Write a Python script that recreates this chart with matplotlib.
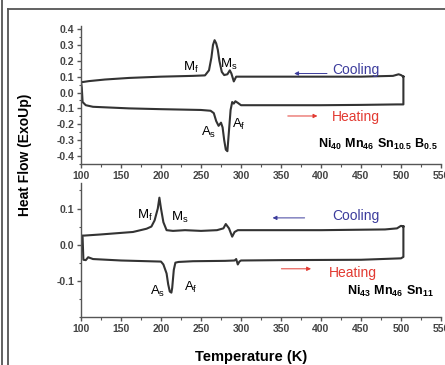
import numpy as np
import matplotlib
matplotlib.use('Agg')
import matplotlib.pyplot as plt
from matplotlib.lines import Line2D

plt.rcParams['font.family'] = ['Liberation Sans', 'DejaVu Sans']
plt.rcParams['mathtext.fontset'] = 'custom'
plt.rcParams['mathtext.rm'] = 'Liberation Sans'
plt.rcParams['mathtext.bf'] = 'Liberation Sans:bold'

# ~~~~~~~~~~~~~~~~~~~~~~~~~~~~~~~~~~~~~~~ Data ~~~~~~~~~~~~~~~~~~~~~~~~~~~~~~~~~~~~~~~
# Top panel: Ni40 Mn46 Sn10.5 B0.5 (cooling listed from 503 K down to 100 K)
top_cool_T = [503, 500, 497, 490, 450, 400, 350, 300, 294, 291, 288, 286, 283, 279, 276, 273, 271, 269,
              267, 265, 263, 260, 255, 240, 200, 160, 130, 110, 102, 100]
top_cool_hf = [0.10, 0.11, 0.115, 0.105, 0.10, 0.10, 0.10, 0.10, 0.10, 0.07, 0.12, 0.14, 0.115, 0.11, 0.13,
               0.20, 0.27, 0.31, 0.33, 0.30, 0.22, 0.14, 0.108, 0.105, 0.10, 0.092, 0.082, 0.072, 0.066, 0.068]
top_heat_T = [101, 102, 106, 115, 160, 200, 250, 262, 266, 269, 272, 275, 277, 279, 281, 283, 285, 287,
              289, 291, 293, 296, 300, 350, 400, 450, 495, 503]
top_heat_hf = [0.03, -0.06, -0.08, -0.09, -0.10, -0.105, -0.11, -0.115, -0.13, -0.18, -0.21, -0.19, -0.22,
               -0.30, -0.36, -0.37, -0.24, -0.11, -0.06, -0.07, -0.055, -0.065, -0.08, -0.08, -0.08, -0.078,
               -0.075, -0.075]

# Bottom panel: Ni43 Mn46 Sn11
bot_cool_T = [503, 500, 495, 480, 400, 300, 296, 292, 289, 285, 281, 278, 270, 250, 230, 215, 207, 203,
              200, 198, 196, 192, 188, 182, 165, 124, 104, 101]
bot_cool_hf = [0.05, 0.052, 0.045, 0.042, 0.04, 0.04, 0.04, 0.035, 0.022, 0.045, 0.057, 0.045, 0.04,
               0.038, 0.04, 0.038, 0.04, 0.062, 0.10, 0.13, 0.10, 0.067, 0.05, 0.044, 0.035, 0.028, 0.025,
               0.025]
bot_heat_T = [102, 103, 106, 109, 115, 150, 200, 203, 207, 209, 211, 213, 214, 216, 218, 222, 240, 280,
              292, 294, 296, 298, 300, 350, 450, 500, 503]
bot_heat_hf = [0.02, -0.042, -0.043, -0.035, -0.04, -0.044, -0.047, -0.055, -0.08, -0.11, -0.13, -0.133,
               -0.12, -0.07, -0.05, -0.048, -0.046, -0.045, -0.044, -0.04, -0.055, -0.047, -0.044, -0.043,
               -0.042, -0.038, -0.034]

x_ticks = [100, 150, 200, 250, 300, 350, 400, 450, 500, 550]
top_y_ticks = [-0.4, -0.3, -0.2, -0.1, 0.0, 0.1, 0.2, 0.3, 0.4]
bot_y_ticks = [-0.1, 0.0, 0.1]

line_col = '#333333'
cool_col = '#3c3c9c'
heat_col = '#e23a32'

fig = plt.figure(figsize=(4.45, 3.65), dpi=100)
ax1 = fig.add_axes([0.182, 0.551, 0.809, 0.378])
ax2 = fig.add_axes([0.182, 0.132, 0.809, 0.366])


def loop(cool_T, cool_hf, heat_T, heat_hf):
    # cooling (high -> low), heating (low -> high), closed back to the start
    T = list(cool_T) + list(heat_T) + [cool_T[0]]
    hf = list(cool_hf) + list(heat_hf) + [cool_hf[0]]
    return T, hf


def style(ax, yticks, ylim, minor_step):
    ax.set_xlim(100, 550)
    ax.set_ylim(*ylim)
    for s in ['top', 'right']:
        ax.spines[s].set_visible(False)
    for s in ['left', 'bottom']:
        ax.spines[s].set_color('#555555')
        ax.spines[s].set_linewidth(1.0)
    ax.set_xticks(x_ticks)
    ax.set_xticks(np.arange(125, 550, 50), minor=True)
    ax.set_yticks(yticks)
    ax.set_yticks(np.arange(ylim[0] - ylim[0] % minor_step, ylim[1], minor_step), minor=True)
    ax.set_yticklabels(['%.1f' % v for v in yticks])
    ax.tick_params(which='major', length=3, width=1.0, color='#555555', labelsize=7.5,
                   labelcolor='#444444', pad=2)
    ax.tick_params(which='minor', length=1.8, width=0.8, color='#555555')
    for lab in ax.get_xticklabels() + ax.get_yticklabels():
        lab.set_fontweight('bold')
    ax.patch.set_alpha(0)


# ~~~~~~~~~~~~~~~~~~~~~~~~~~~~~~~~~~~~~~~ Top panel ~~~~~~~~~~~~~~~~~~~~~~~~~~~~~~~~~~~~~~~
T, hf = loop(top_cool_T, top_cool_hf, top_heat_T, top_heat_hf)
ax1.plot(T, hf, color=line_col, lw=1.5)
style(ax1, top_y_ticks, (-0.43, 0.42), 0.05)

ax1.text(237, 0.16, r'$\mathregular{M_f}$', fontsize=9.5, ha='center', va='center')
ax1.text(285, 0.18, r'$\mathregular{M_s}$', fontsize=9.5, ha='center', va='center')
ax1.text(260, -0.25, r'$\mathregular{A_s}$', fontsize=9.5, ha='center', va='center')
ax1.text(297, -0.2, r'$\mathregular{A_f}$', fontsize=9.5, ha='center', va='center')
ax1.annotate('', xy=(363, 0.12), xytext=(411, 0.12),
             arrowprops=dict(arrowstyle='-|>', color=cool_col, lw=0.7, mutation_scale=6))
ax1.text(414, 0.14, 'Cooling', color=cool_col, fontsize=10, va='center', ha='left')
ax1.annotate('', xy=(399, -0.148), xytext=(355, -0.148),
             arrowprops=dict(arrowstyle='-|>', color=heat_col, lw=0.7, mutation_scale=6))
ax1.text(413, -0.155, 'Heating', color=heat_col, fontsize=10, va='center', ha='left')
ax1.text(546, -0.33, r'$\mathbf{Ni_{40}\ Mn_{46}\ Sn_{10.5}\ B_{0.5}}$', fontsize=9,
         ha='right', va='center')

# ~~~~~~~~~~~~~~~~~~~~~~~~~~~~~~~~~~~~~~~ Bottom panel ~~~~~~~~~~~~~~~~~~~~~~~~~~~~~~~~~~~~~~~
T, hf = loop(bot_cool_T, bot_cool_hf, bot_heat_T, bot_heat_hf)
ax2.plot(T, hf, color=line_col, lw=1.5)
style(ax2, bot_y_ticks, (-0.175, 0.17), 0.05)

ax2.text(180, 0.08, r'$\mathregular{M_f}$', fontsize=9.5, ha='center', va='center')
ax2.text(224, 0.075, r'$\mathregular{M_s}$', fontsize=9.5, ha='center', va='center')
ax2.text(196, -0.13, r'$\mathregular{A_s}$', fontsize=9.5, ha='center', va='center')
ax2.text(237, -0.12, r'$\mathregular{A_f}$', fontsize=9.5, ha='center', va='center')
ax2.annotate('', xy=(336, 0.074), xytext=(383, 0.074),
             arrowprops=dict(arrowstyle='-|>', color=cool_col, lw=0.7, mutation_scale=6))
ax2.text(414, 0.08, 'Cooling', color=cool_col, fontsize=10, va='center', ha='left')
ax2.annotate('', xy=(391, -0.067), xytext=(347, -0.067),
             arrowprops=dict(arrowstyle='-|>', color=heat_col, lw=0.7, mutation_scale=6))
ax2.text(410, -0.08, 'Heating', color=heat_col, fontsize=10, va='center', ha='left')
ax2.text(541, -0.13, r'$\mathbf{Ni_{43}\ Mn_{46}\ Sn_{11}}$', fontsize=9, ha='right', va='center')

# shared axis labels
fig.text(0.056, 0.575, 'Heat Flow (ExoUp)', rotation=90, fontsize=10, fontweight='bold',
         ha='center', va='center')
fig.text(0.564, 0.022, 'Temperature (K)', fontsize=10.5, fontweight='bold', ha='center', va='center')

# frame lines of the page
W, H = 445.0, 365.0
fig.add_artist(Line2D([2 / W, 2 / W], [0, 1], transform=fig.transFigure, color='#555555', lw=1.3))
fig.add_artist(Line2D([7.5 / W, 7.5 / W], [0, 1 - 9 / H], transform=fig.transFigure, color='#555555', lw=1.3))
fig.add_artist(Line2D([7.5 / W, 1], [1 - 9 / H, 1 - 9 / H], transform=fig.transFigure, color='#555555', lw=1.3))

fig.savefig('out.png', dpi=100)
